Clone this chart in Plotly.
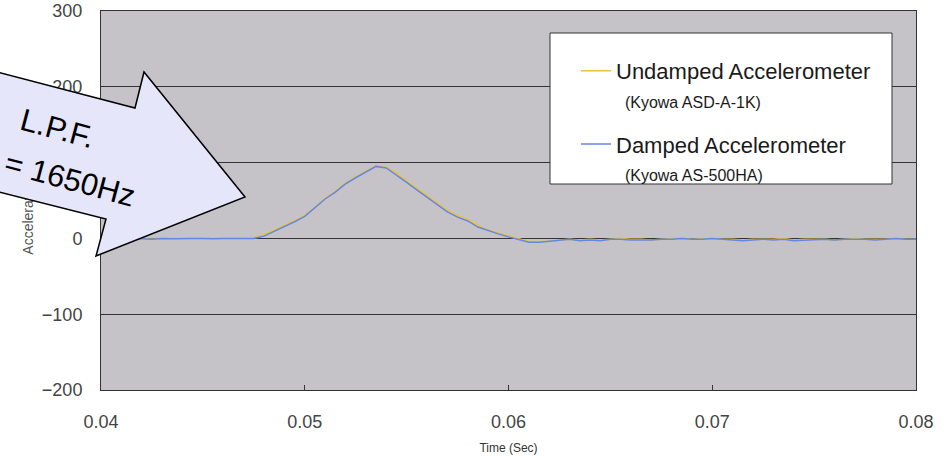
import plotly.graph_objects as go

# ---------------- data ----------------
time_sec = [round(0.04 + 0.0005 * i, 4) for i in range(81)]

undamped = [0, 0, 0, 0.5, 0, 1, 0, 0, 0, 0,
            0, 0, 0.5, 0, 0.5, 1, 5, 11, 17, 23,
            30, 41, 53, 62, 73, 81, 89, 96, 94, 86,
            76, 66, 56, 46, 37, 30, 25, 17, 11, 7,
            3, 0, -4, -4, -4, -2, -1, -2, -1, -2,
            -1, 0, -1, -1, -2, -1, 0, 1, -1, 0,
            0, -1, -1, -2, -1, -1, -1, 0, -2, -1,
            -1, -1, -2, -1, 0, -1, -1, -1, 0, -1,
            -1]

damped = [0, 0, 0, -0.5, -0.5, -1, 0, -0.5, 0, 0,
          0, -0.5, 0, 0, 0, 0, 3, 9, 15, 22,
          29, 40, 52, 61, 72, 80, 88, 95, 93, 84,
          74, 64, 54, 44, 35, 28, 23, 15, 10, 6,
          2, -1, -5, -5, -4, -3, -1, -3, -2, -3,
          -1, -1, -2, -2, -2, -1, -1, 0, -1, -1,
          0, -1, -2, -3, -2, -1, -2, -1, -3, -2,
          -1, -1, -2, -1, -1, -1, -2, -1, 0, -1,
          -1]

x_ticks = [0.04, 0.05, 0.06, 0.07, 0.08]
x_tick_labels = ["0.04", "0.05", "0.06", "0.07", "0.08"]
y_ticks = [-200, -100, 0, 100, 200, 300]

series_names = [
    "Undamped Accelerometer<br><span style='font-size:16px;'>\u00a0\u00a0(Kyowa ASD-A-1K)</span>",
    "Damped Accelerometer<br><span style='font-size:16px;'>\u00a0\u00a0(Kyowa AS-500HA)</span>",
]
y_title = "Acceleration (G)"
x_title = "Time (Sec)"
callout_lines = ["L.P.F.", "= 1650Hz"]

# ---------------- layout helpers ----------------
W, H = 946, 456
L, R, T, B = 101, 916, 11, 390   # plot area in pixels


def px(xp):
    return (xp - L) / (R - L)


def py(yp):
    return (B - yp) / (B - T)


FONT = "Liberation Sans, Arial, sans-serif"

fig = go.Figure()
fig.add_trace(go.Scatter(x=time_sec, y=undamped, mode="lines", name=series_names[0],
                         line=dict(color="#EEC232", width=1.5), legendgroup="a"))
fig.add_trace(go.Scatter(x=time_sec, y=damped, mode="lines", name=series_names[1],
                         line=dict(color="#6487E4", width=1.5), legendgroup="b"))
# empty trace to host the (mostly hidden-behind-arrow) y title axis
fig.add_trace(go.Scatter(x=[], y=[], yaxis="y2", showlegend=False, hoverinfo="skip"))

# arrow polygon (pixel coordinates -> paper)
arrow_px = [(-60, 57), (135, 108), (144, 72), (245, 197), (96, 256), (106, 219), (-60, 177)]
path = "M " + " L ".join(f"{px(a):.5f},{py(b):.5f}" for a, b in arrow_px) + " Z"

shapes = [
    # legend frame
    dict(type="rect", xref="paper", yref="paper", x0=px(550), x1=px(892), y0=py(184), y1=py(33),
         fillcolor="white", line=dict(color="#333333", width=1), layer="above"),
    # arrow
    dict(type="path", xref="paper", yref="paper", path=path,
         fillcolor="#E6E6FA", line=dict(color="black", width=1.5), layer="above"),
]

annotations = [
    dict(text=callout_lines[0], xref="paper", yref="paper", x=px(57), y=py(128),
         showarrow=False, textangle=15, font=dict(family=FONT, size=31, color="black"),
         xanchor="center", yanchor="middle"),
    dict(text=callout_lines[1], xref="paper", yref="paper", x=px(70), y=py(180),
         showarrow=False, textangle=15, font=dict(family=FONT, size=31, color="black"),
         xanchor="center", yanchor="middle"),
]

fig.update_layout(
    width=W, height=H,
    margin=dict(l=L, r=W - R, t=T, b=H - B, autoexpand=False),
    paper_bgcolor="white",
    plot_bgcolor="#C6C3C8",
    font=dict(family=FONT, color="#444444"),
    showlegend=True,
    legend=dict(x=px(576), y=py(50), xanchor="left", yanchor="top",
                bgcolor="rgba(0,0,0,0)", borderwidth=0,
                font=dict(family=FONT, size=22, color="#1a1a1a"),
                valign="top", traceorder="grouped", tracegroupgap=13),
    xaxis=dict(range=[0.04, 0.08], tickvals=x_ticks, ticktext=x_tick_labels,
               ticks="inside", ticklen=5, tickcolor="#333333", showgrid=False, zeroline=False,
               showline=True, mirror=True, linecolor="#333333", linewidth=1,
               tickfont=dict(size=18, color="#444444"), ticklabelstandoff=15,
               title=dict(text=x_title, font=dict(size=12, color="#333333"), standoff=13)),
    yaxis=dict(range=[-200, 300], tickvals=y_ticks, ticks="", showgrid=True,
               gridcolor="#333333", gridwidth=1, zeroline=True, zerolinecolor="#333333",
               zerolinewidth=1, showline=True, mirror=True, linecolor="#333333", linewidth=1,
               tickfont=dict(size=18, color="#444444"), ticklabelstandoff=14),
    yaxis2=dict(overlaying="y", anchor="free", position=0, side="left", range=[0, 1],
                tickvals=[0.485], ticktext=[y_title], tickangle=-90, showgrid=False,
                zeroline=False, showline=False, ticks="",
                tickfont=dict(size=14, color="#555555"), ticklabelstandoff=65),
    shapes=shapes,
    annotations=annotations,
)

fig.write_html("out.html", config={"displayModeBar": False},
               post_script="document.body.style.margin='0';")
